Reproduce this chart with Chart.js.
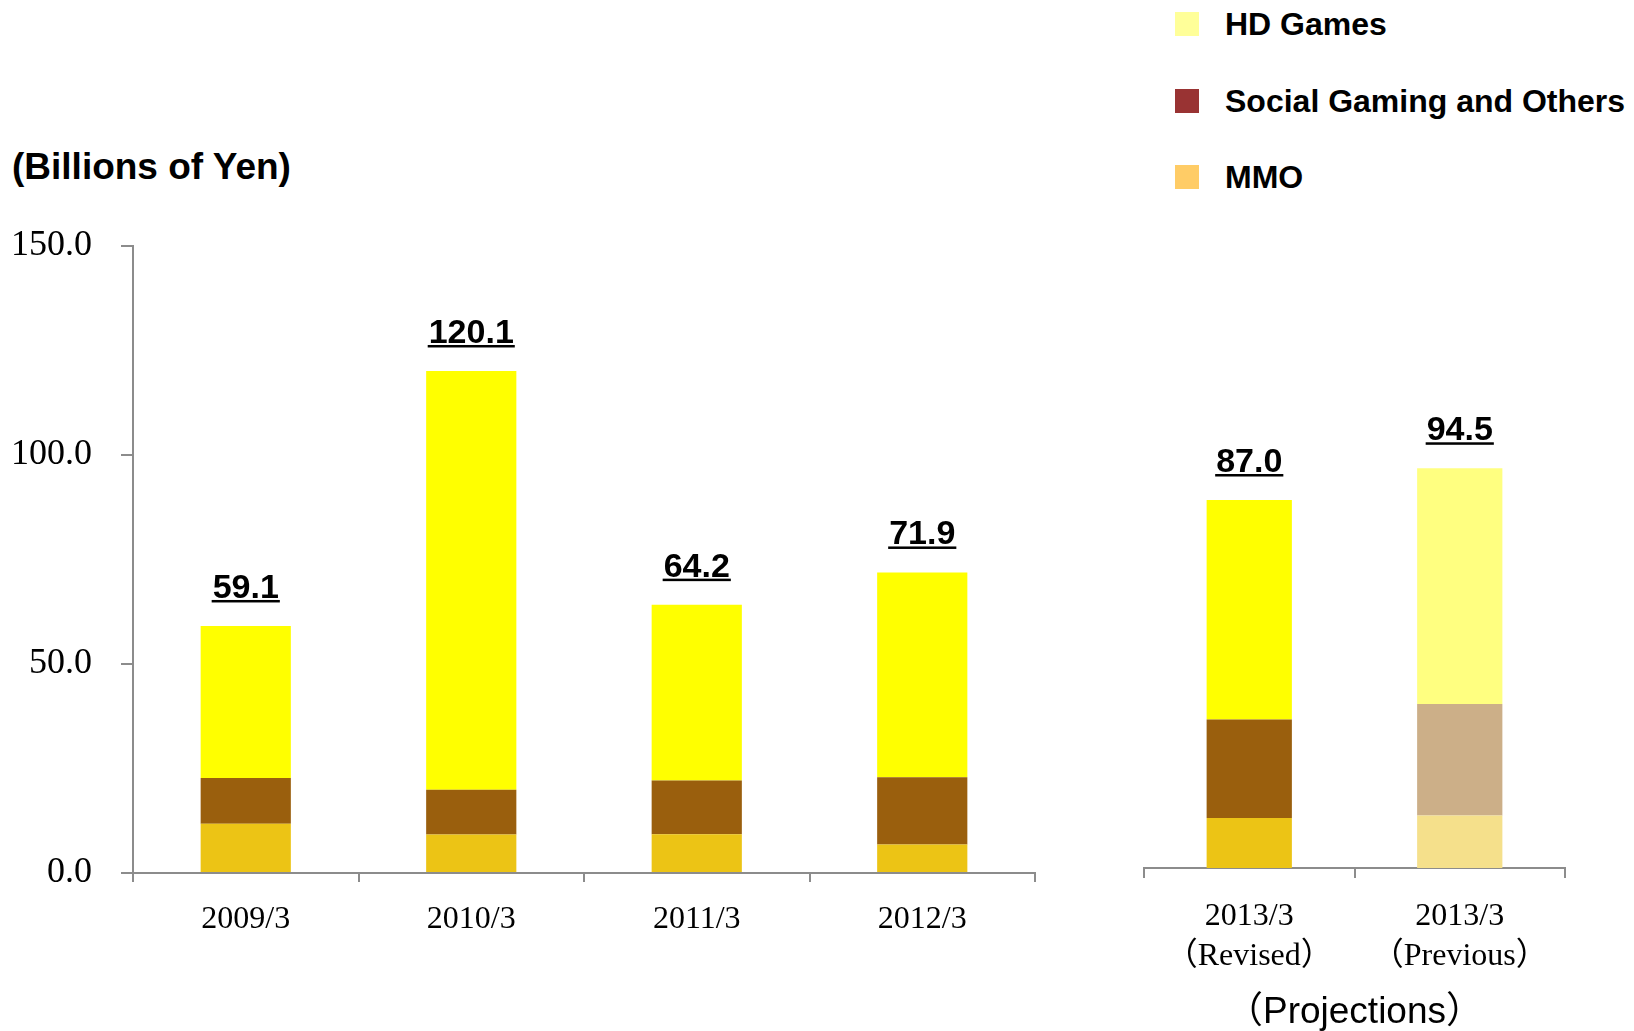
<!DOCTYPE html>
<html>
<head>
<meta charset="utf-8">
<script src="https://cdn.jsdelivr.net/npm/chart.js@4.4.1/dist/chart.umd.min.js"></script>
<style>
  body { margin: 0; width: 1634px; height: 1031px; position: relative; background: #fff; overflow: hidden; }
  #unit { position: absolute; left: 12px; top: 146px; font: bold 37px "Liberation Sans", Arial, sans-serif; color: #000; }
  .legend-row { position: absolute; left: 1175px; height: 40px; display: flex; align-items: center; font: bold 32px "Liberation Sans", Arial, sans-serif; color: #000; white-space: nowrap; }
  .legend-box { width: 24px; height: 24px; margin-right: 26px; }
  #left { position: absolute; left: 0; top: 0; width: 1100px; height: 1031px; }
  #right { position: absolute; left: 1100px; top: 0; width: 534px; height: 1031px; }
</style>
</head>
<body>
<div id="unit">(Billions of Yen)</div>
<div id="legend"></div>
<div id="left"><canvas id="leftChart"></canvas></div>
<div id="right"><canvas id="rightChart"></canvas></div>
<script>
// actual results
const categories = ['2009/3', '2010/3', '2011/3', '2012/3'];
const mmo = [11.8, 9.2, 9.3, 6.8];
const social = [10.9, 10.7, 12.8, 16.1];
const hd = [36.4, 100.2, 42.1, 49.0];

// projections
const projCategories = [['2013/3', '（Revised）'], ['2013/3', '（Previous）']];
const projMmo = [11.8, 12.4];
const projSocial = [23.3, 26.4];
const projHd = [51.9, 55.7];

const yTicks = [0, 50, 100, 150];
const seriesNames = ['HD Games', 'Social Gaming and Others', 'MMO'];
const legendColors = ['#ffff99', '#993333', '#ffcc66'];

const axisGray = '#8c8c8c';
const serif = '"Liberation Serif", "Times New Roman", "Noto Sans CJK JP", serif';
const sans = '"Liberation Sans", Arial, "Noto Sans CJK JP", sans-serif';

// legend
const legend = document.getElementById('legend');
const legendCenters = [24, 101, 177];
seriesNames.forEach((name, i) => {
    const row = document.createElement('div');
    row.className = 'legend-row';
    row.style.top = (legendCenters[i] - 20) + 'px';
    row.innerHTML = '<div class="legend-box" style="background:' + legendColors[i] + '"></div><span>' + name + '</span>';
    legend.appendChild(row);
});

// underlined totals above each stack
const totalLabels = {
    id: 'totalLabels',
    afterDatasetsDraw(chart) {
        const ctx = chart.ctx;
        const top = chart.getDatasetMeta(chart.data.datasets.length - 1);
        ctx.save();
        ctx.font = 'bold 34px ' + sans;
        ctx.fillStyle = '#000';
        ctx.textAlign = 'center';
        ctx.textBaseline = 'alphabetic';
        chart.data.labels.forEach((_, i) => {
            const total = chart.data.datasets.reduce((s, d) => s + d.data[i], 0);
            const txt = total.toFixed(1);
            const bar = top.data[i];
            const y = bar.y - 28;
            ctx.fillText(txt, bar.x, y);
            const w = ctx.measureText(txt).width;
            ctx.fillRect(bar.x - w / 2 - 1, y + 2, w + 2, 2.5);
        });
        ctx.restore();
    }
};

Chart.defaults.animation = false;
Chart.defaults.devicePixelRatio = 1;

new Chart(document.getElementById('leftChart'), {
    type: 'bar',
    data: {
        labels: categories,
        datasets: [
            { label: 'MMO', data: mmo, backgroundColor: '#ecc415' },
            { label: 'Social Gaming and Others', data: social, backgroundColor: '#9a5f0d' },
            { label: 'HD Games', data: hd, backgroundColor: '#ffff00' }
        ]
    },
    options: {
        responsive: true,
        maintainAspectRatio: false,
        layout: { padding: { left: 0, right: 65, top: 246, bottom: 0 } },
        datasets: { bar: { barPercentage: 0.4, categoryPercentage: 1.0 } },
        plugins: { legend: { display: false }, tooltip: { enabled: false } },
        scales: {
            x: {
                stacked: true,
                afterFit: s => { s.height = 158; },
                grid: { offset: true, drawOnChartArea: false, tickLength: 9, color: axisGray, lineWidth: 2 },
                border: { color: axisGray, width: 2 },
                ticks: { color: '#000', padding: 18, font: { family: serif, size: 32 } }
            },
            y: {
                stacked: true,
                min: 0,
                max: 150,
                afterFit: s => { s.width = 133; },
                afterBuildTicks: s => { s.ticks = yTicks.map(v => ({ value: v })); },
                grid: { drawOnChartArea: false, tickLength: 12, color: axisGray, lineWidth: 2 },
                border: { color: axisGray, width: 2 },
                ticks: { color: '#000', padding: 29, font: { family: serif, size: 36 }, callback: v => v.toFixed(1) }
            }
        }
    },
    plugins: [totalLabels]
});

new Chart(document.getElementById('rightChart'), {
    type: 'bar',
    data: {
        labels: projCategories,
        datasets: [
            { label: 'MMO', data: projMmo, backgroundColor: ['#ecc415', '#f5e08b'] },
            { label: 'Social Gaming and Others', data: projSocial, backgroundColor: ['#9a5f0d', '#ccaf88'] },
            { label: 'HD Games', data: projHd, backgroundColor: ['#ffff00', '#ffff80'] }
        ]
    },
    options: {
        responsive: true,
        maintainAspectRatio: false,
        layout: { padding: { left: 44, right: 69, top: 242, bottom: 0 } },
        datasets: { bar: { barPercentage: 0.405, categoryPercentage: 1.0 } },
        plugins: { legend: { display: false }, tooltip: { enabled: false } },
        scales: {
            x: {
                stacked: true,
                afterFit: s => { s.height = 163; },
                grid: { offset: true, drawOnChartArea: false, tickLength: 10, color: axisGray, lineWidth: 2 },
                border: { color: axisGray, width: 2 },
                ticks: { color: '#000', padding: 19, font: { family: serif, size: 32, lineHeight: 1.25 } },
                title: { display: true, text: '（Projections）', color: '#000', padding: 0, font: { family: sans, size: 37, lineHeight: 1.0 } }
            },
            y: {
                display: false,
                stacked: true,
                min: 0,
                max: 148
            }
        }
    },
    plugins: [totalLabels]
});
</script>
</body>
</html>
